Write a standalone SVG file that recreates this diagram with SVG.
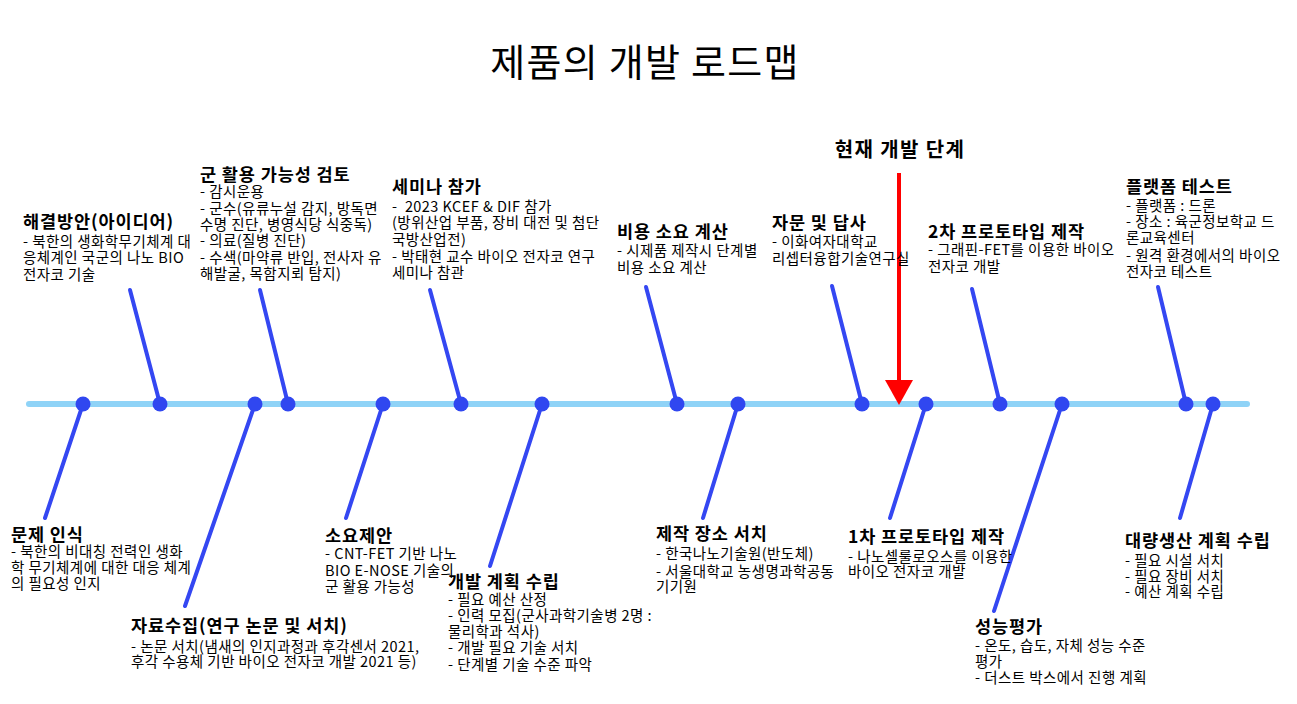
<svg xmlns="http://www.w3.org/2000/svg" width="1297" height="704" viewBox="0 0 1297 704">
<style>
text{font-family:"Noto Sans CJK KR","Noto Sans",sans-serif;fill:#000}
.h{font-size:17.5px;font-weight:bold;letter-spacing:0.9px}
.b{font-size:14.5px;letter-spacing:0.45px}
.title{font-size:38px;letter-spacing:1.3px}
.cur{font-size:20px;font-weight:bold;letter-spacing:1.4px}
.stem{stroke:#3447f2;stroke-width:4;stroke-linecap:round;fill:none}
.dot{fill:#3047f0}
</style>
<rect width="1297" height="704" fill="#fff"/>
<text class="title" x="645" y="76" text-anchor="middle">제품의 개발 로드맵</text>

<g id="timeline">
<line x1="29" y1="404" x2="1247" y2="404" stroke="#8fd3f7" stroke-width="6" stroke-linecap="round"/>
</g>

<g id="connectors">
<line class="stem" x1="160" y1="404" x2="130" y2="290"/>
<line class="stem" x1="288" y1="404" x2="260" y2="290"/>
<line class="stem" x1="461" y1="404" x2="430" y2="290"/>
<line class="stem" x1="677" y1="404" x2="646" y2="287"/>
<line class="stem" x1="862" y1="404" x2="832" y2="286"/>
<line class="stem" x1="1000" y1="404" x2="972" y2="289"/>
<line class="stem" x1="1186" y1="404" x2="1158" y2="287"/>
<line class="stem" x1="83" y1="404" x2="45" y2="518"/>
<line class="stem" x1="255" y1="404" x2="185" y2="606"/>
<line class="stem" x1="383" y1="404" x2="346" y2="518"/>
<line class="stem" x1="542" y1="404" x2="490" y2="566"/>
<line class="stem" x1="738" y1="404" x2="703" y2="518"/>
<line class="stem" x1="926" y1="404" x2="890" y2="518"/>
<line class="stem" x1="1062" y1="404" x2="994" y2="611"/>
<line class="stem" x1="1213" y1="404" x2="1180" y2="518"/>
</g>

<g id="current-stage">
<text class="cur" x="900" y="157" text-anchor="middle">현재 개발 단계</text>
<line x1="899" y1="173" x2="899" y2="382" stroke="#ff0000" stroke-width="4"/>
<polygon points="885,380 913,380 899,405" fill="#ff0000"/>
</g>

<g id="n1">
<circle class="dot" cx="83" cy="404" r="7.5"/>
<text class="h" x="11" y="541">문제 인식</text>
<text class="b" x="11" y="557">- 북한의 비대칭 전력인 생화</text>
<text class="b" x="11" y="573">학 무기체계에 대한 대응 체계</text>
<text class="b" x="11" y="589">의 필요성 인지</text>
</g>

<g id="n2">
<circle class="dot" cx="160" cy="404" r="7.5"/>
<text class="h" x="23" y="228">해결방안(아이디어)</text>
<text class="b" x="23" y="247">- 북한의 생화학무기체계 대</text>
<text class="b" x="23" y="263">응체계인 국군의 나노 BIO</text>
<text class="b" x="23" y="280">전자코 기술</text>
</g>

<g id="n3">
<circle class="dot" cx="255" cy="404" r="7.5"/>
<text class="h" x="131" y="632">자료수집(연구 논문 및 서치)</text>
<text class="b" x="131" y="652">- 논문 서치(냄새의 인지과정과 후각센서 2021,</text>
<text class="b" x="131" y="667">후각 수용체 기반 바이오 전자코 개발 2021 등)</text>
</g>

<g id="n4">
<circle class="dot" cx="288" cy="404" r="7.5"/>
<text class="h" x="200" y="181">군 활용 가능성 검토</text>
<text class="b" x="200" y="197">- 감시운용</text>
<text class="b" x="200" y="214">- 군수(유류누설 감지, 방독면</text>
<text class="b" x="200" y="230">수명 진단, 병영식당 식중독)</text>
<text class="b" x="200" y="246">- 의료(질병 진단)</text>
<text class="b" x="200" y="263">- 수색(마약류 반입, 전사자 유</text>
<text class="b" x="200" y="279">해발굴, 목함지뢰 탐지)</text>
</g>

<g id="n5">
<circle class="dot" cx="383" cy="404" r="7.5"/>
<text class="h" x="325" y="542">소요제안</text>
<text class="b" x="325" y="559">- CNT-FET 기반 나노</text>
<text class="b" x="325" y="576">BIO E-NOSE 기술의</text>
<text class="b" x="325" y="592">군 활용 가능성</text>
</g>

<g id="n6">
<circle class="dot" cx="461" cy="404" r="7.5"/>
<text class="h" x="392" y="193">세미나 참가</text>
<text class="b" x="392" y="212" xml:space="preserve">-  2023 KCEF &amp; DIF 참가</text>
<text class="b" x="392" y="228">(방위산업 부품, 장비 대전 및 첨단</text>
<text class="b" x="392" y="245">국방산업전)</text>
<text class="b" x="392" y="262">- 박태현 교수 바이오 전자코 연구</text>
<text class="b" x="392" y="278">세미나 참관</text>
</g>

<g id="n7">
<circle class="dot" cx="542" cy="404" r="7.5"/>
<text class="h" x="448" y="588">개발 계획 수립</text>
<text class="b" x="448" y="605">- 필요 예산 산정</text>
<text class="b" x="448" y="621">- 인력 모집(군사과학기술병 2명 :</text>
<text class="b" x="448" y="637">물리학과 석사)</text>
<text class="b" x="448" y="653">- 개발 필요 기술 서치</text>
<text class="b" x="448" y="670">- 단계별 기술 수준 파악</text>
</g>

<g id="n8">
<circle class="dot" cx="677" cy="404" r="7.5"/>
<text class="h" x="617" y="238">비용 소요 계산</text>
<text class="b" x="617" y="256">- 시제품 제작시 단계별</text>
<text class="b" x="617" y="273">비용 소요 계산</text>
</g>

<g id="n9">
<circle class="dot" cx="738" cy="404" r="7.5"/>
<text class="h" x="656" y="540">제작 장소 서치</text>
<text class="b" x="656" y="559">- 한국나노기술원(반도체)</text>
<text class="b" x="656" y="577">- 서울대학교 농생명과학공동</text>
<text class="b" x="656" y="592">기기원</text>
</g>

<g id="n10">
<circle class="dot" cx="862" cy="404" r="7.5"/>
<text class="h" x="772" y="229">자문 및 답사</text>
<text class="b" x="772" y="247">- 이화여자대학교</text>
<text class="b" x="772" y="264">리셉터융합기술연구실</text>
</g>

<g id="n11">
<circle class="dot" cx="926" cy="404" r="7.5"/>
<text class="h" x="848" y="543">1차 프로토타입 제작</text>
<text class="b" x="848" y="562">- 나노셀룰로오스를 이용한</text>
<text class="b" x="848" y="577">바이오 전자코 개발</text>
</g>

<g id="n12">
<circle class="dot" cx="1000" cy="404" r="7.5"/>
<text class="h" x="928" y="238">2차 프로토타입 제작</text>
<text class="b" x="928" y="255">- 그래핀-FET를 이용한 바이오</text>
<text class="b" x="928" y="272">전자코 개발</text>
</g>

<g id="n13">
<circle class="dot" cx="1062" cy="404" r="7.5"/>
<text class="h" x="975" y="633">성능평가</text>
<text class="b" x="975" y="651">- 온도, 습도, 자체 성능 수준</text>
<text class="b" x="975" y="667">평가</text>
<text class="b" x="975" y="683">- 더스트 박스에서 진행 계획</text>
</g>

<g id="n14">
<circle class="dot" cx="1186" cy="404" r="7.5"/>
<text class="h" x="1126" y="193">플랫폼 테스트</text>
<text class="b" x="1126" y="211">- 플랫폼 : 드론</text>
<text class="b" x="1126" y="227">- 장소 : 육군정보학교 드</text>
<text class="b" x="1126" y="243">론교육센터</text>
<text class="b" x="1126" y="261">- 원격 환경에서의 바이오</text>
<text class="b" x="1126" y="277">전자코 테스트</text>
</g>

<g id="n15">
<circle class="dot" cx="1213" cy="404" r="7.5"/>
<text class="h" x="1125" y="547">대량생산 계획 수립</text>
<text class="b" x="1125" y="566">- 필요 시설 서치</text>
<text class="b" x="1125" y="582">- 필요 장비 서치</text>
<text class="b" x="1125" y="597">- 예산 계획 수립</text>
</g>
</svg>
